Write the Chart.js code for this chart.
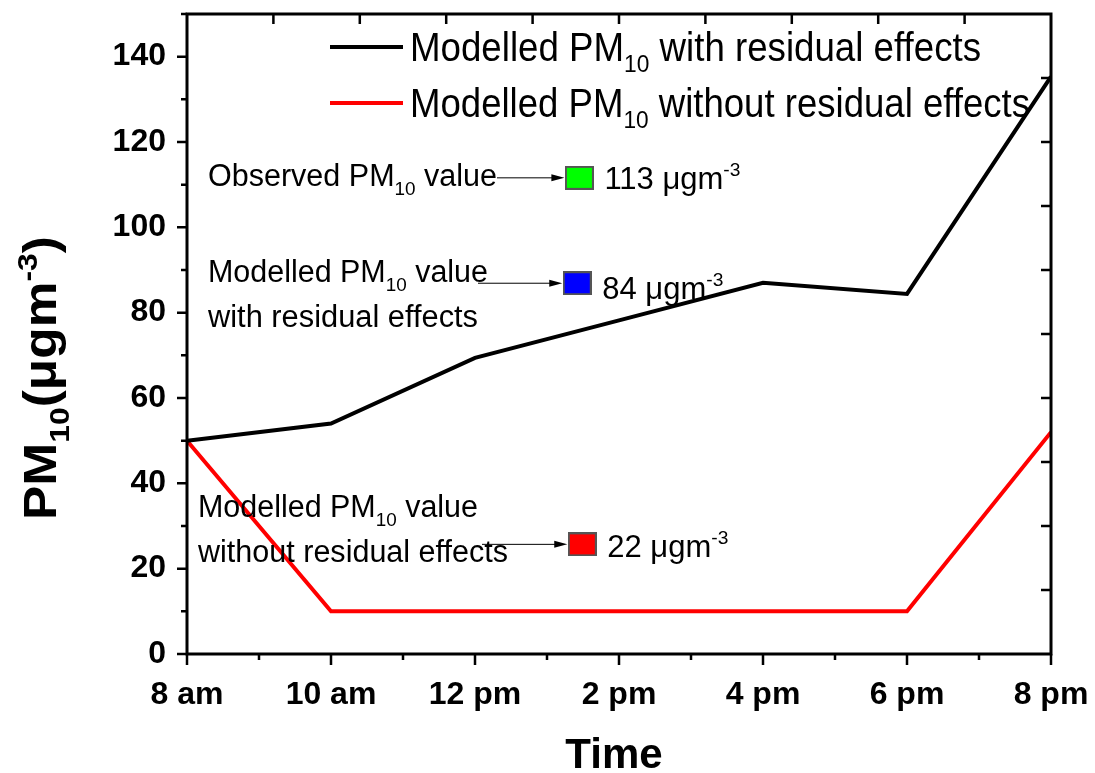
<!DOCTYPE html>
<html>
<head>
<meta charset="UTF-8">
<title>PM10 modelled vs observed</title>
<script src="https://cdn.jsdelivr.net/npm/chart.js"></script>
<style>
  html, body { margin: 0; padding: 0; background: #fff; }
  #wrap { width: 1095px; height: 773px; position: relative; }
</style>
</head>
<body>
<div id="wrap"><canvas id="pmChart"></canvas></div>
<script>
// hours after 8 am, one point every 2 hours
const hours = [0, 2, 4, 6, 8, 10, 12];
const timeLabels = ['8 am', '10 am', '12 pm', '2 pm', '4 pm', '6 pm', '8 pm'];
const withResidual = [50, 54, 69.4, 78.2, 87, 84.4, 135.3];
const withoutResidual = [50, 10, 10, 10, 10, 10, 52];

// the three coloured squares (observed / modelled values at the check time)
const markerHours = [5.45, 5.42, 5.49];
const markerValues = [111.6, 86.9, 25.7];
const markerTexts = ['113', '84', '22'];
const markerColors = ['#00ff00', '#0000ff', '#ff0000'];

const yMax = 150;
const fam = '"Liberation Sans", Arial, sans-serif';

function fontStr(size, bold) {
  return (bold ? 'bold ' : '') + size + 'px ' + fam;
}

// parts: [text, 'n' | 'sub' | 'sup']
function partSize(size, mode) { return mode === 'n' ? size : size * 0.62; }
function partDy(size, mode) {
  if (mode === 'sub') return size * 0.28;
  if (mode === 'sup') return -size * 0.42;
  return 0;
}
function richWidth(ctx, parts, size, bold) {
  let w = 0;
  parts.forEach(p => {
    ctx.font = fontStr(partSize(size, p[1]), bold);
    w += ctx.measureText(p[0]).width;
  });
  return w;
}
function drawRich(ctx, parts, x, y, size, bold, targetW) {
  const w = richWidth(ctx, parts, size, bold);
  const sx = targetW ? targetW / w : 1;
  ctx.save();
  ctx.translate(x, y);
  ctx.scale(sx, 1);
  ctx.textBaseline = 'alphabetic';
  ctx.textAlign = 'left';
  ctx.fillStyle = '#000';
  let cx = 0;
  parts.forEach(p => {
    ctx.font = fontStr(partSize(size, p[1]), bold);
    ctx.fillText(p[0], cx, partDy(size, p[1]));
    cx += ctx.measureText(p[0]).width;
  });
  ctx.restore();
}

function arrow(ctx, x1, x2, y) {
  ctx.save();
  ctx.strokeStyle = '#000';
  ctx.fillStyle = '#000';
  ctx.lineWidth = 1;
  ctx.beginPath();
  ctx.moveTo(x1, y);
  ctx.lineTo(x2 - 10, y);
  ctx.stroke();
  ctx.beginPath();
  ctx.moveTo(x2, y);
  ctx.lineTo(x2 - 13, y - 3.5);
  ctx.lineTo(x2 - 13, y + 3.5);
  ctx.closePath();
  ctx.fill();
  ctx.restore();
}

function squareImage(color) {
  const c = document.createElement('canvas');
  c.width = 29; c.height = 24;
  const g = c.getContext('2d');
  g.fillStyle = color;
  g.fillRect(0, 0, 29, 24);
  g.strokeStyle = '#555';
  g.lineWidth = 2;
  g.strokeRect(1, 1, 27, 22);
  return c;
}

// keep the plot frame where the reference has it
function noPad(s) {
  s.paddingTop = 0; s.paddingBottom = 0; s.paddingLeft = 0; s.paddingRight = 0;
}

const framePlugin = {
  id: 'frame',
  afterDatasetsDraw(chart) {
    const ctx = chart.ctx;
    const a = chart.chartArea;
    const xs = chart.scales.x, ys = chart.scales.y;
    ctx.save();
    ctx.strokeStyle = '#000';
    ctx.lineWidth = 3;
    ctx.strokeRect(a.left, a.top, a.right - a.left, a.bottom - a.top);
    ctx.lineWidth = 2.5;
    ctx.beginPath();
    // left axis ticks, outward
    for (let v = 0; v <= yMax; v += 10) {
      const py = ys.getPixelForValue(v);
      const len = v % 20 === 0 ? 10 : 6;
      ctx.moveTo(a.left, py); ctx.lineTo(a.left - len, py);
    }
    // bottom axis ticks, outward
    for (let h = 0; h <= 12; h++) {
      const px = xs.getPixelForValue(h);
      const len = h % 2 === 0 ? 11 : 6;
      ctx.moveTo(px, a.bottom); ctx.lineTo(px, a.bottom + len);
    }
    // top and right axes: ten plain divisions, inward
    for (let k = 1; k < 10; k++) {
      const px = a.left + (a.right - a.left) * k / 10;
      ctx.moveTo(px, a.top); ctx.lineTo(px, a.top + 10);
      const py = a.top + (a.bottom - a.top) * k / 10;
      ctx.moveTo(a.right, py); ctx.lineTo(a.right - 10, py);
    }
    ctx.stroke();
    ctx.restore();
  },
  afterDraw(chart) {
    const ctx = chart.ctx;
    const a = chart.chartArea;
    const xs = chart.scales.x, ys = chart.scales.y;

    // legend
    ctx.save();
    ctx.lineWidth = 4;
    ctx.strokeStyle = '#000';
    ctx.beginPath(); ctx.moveTo(330, 47); ctx.lineTo(403, 47); ctx.stroke();
    ctx.strokeStyle = '#ff0000';
    ctx.beginPath(); ctx.moveTo(330, 103); ctx.lineTo(403, 103); ctx.stroke();
    ctx.restore();
    drawRich(ctx, [['Modelled PM', 'n'], ['10', 'sub'], [' with residual effects', 'n']], 410, 61, 40, false, 571);
    drawRich(ctx, [['Modelled PM', 'n'], ['10', 'sub'], [' without residual effects', 'n']], 410, 117, 40, false, 620);

    // annotations
    drawRich(ctx, [['Observed PM', 'n'], ['10', 'sub'], [' value', 'n']], 208, 186, 31, false, 289);
    drawRich(ctx, [['Modelled PM', 'n'], ['10', 'sub'], [' value', 'n']], 208, 282, 31, false, 280);
    drawRich(ctx, [['with residual effects', 'n']], 208, 327, 31, false, 270);
    drawRich(ctx, [['Modelled PM', 'n'], ['10', 'sub'], [' value', 'n']], 198, 517, 31, false, 280);
    drawRich(ctx, [['without residual effects', 'n']], 198, 562, 31, false, 310);

    const arrowStarts = [497, 478, 482];
    const labelDrop = [11, 16, 13];
    markerValues.forEach((v, i) => {
      const px = xs.getPixelForValue(markerHours[i]);
      const py = ys.getPixelForValue(v);
      arrow(ctx, arrowStarts[i], px - 15, py);
      drawRich(ctx, [[markerTexts[i] + ' \u03bcgm', 'n'], ['-3', 'sup']], px + 25, py + labelDrop[i], 31, false);
    });

    // axis titles
    ctx.save();
    ctx.translate(56, 378);
    ctx.rotate(-Math.PI / 2);
    const tParts = [['PM', 'n'], ['10', 'sub'], ['(\u03bcgm', 'n'], ['-3', 'sup'], [')', 'n']];
    drawRich(ctx, tParts, -142, 0, 46, true, 284);
    ctx.restore();

    ctx.save();
    ctx.font = fontStr(42, true);
    ctx.fillStyle = '#000';
    ctx.textAlign = 'center';
    ctx.textBaseline = 'alphabetic';
    ctx.fillText('Time', 614, 768);
    ctx.restore();
  }
};

const toXY = (xArr, yArr) => xArr.map((h, i) => ({ x: h, y: yArr[i] }));

const markerSets = markerValues.map((v, i) => ({
  label: 'marker ' + markerTexts[i],
  data: [{ x: markerHours[i], y: v }],
  showLine: false,
  pointStyle: squareImage(markerColors[i]),
  pointRadius: 14,
  borderWidth: 0
}));

const ctx = document.getElementById('pmChart').getContext('2d');
const pmChart = new Chart(ctx, {
  type: 'line',
  data: {
    datasets: [
      {
        label: 'Modelled PM10 with residual effects',
        data: toXY(hours, withResidual),
        borderColor: '#000000',
        borderWidth: 4,
        pointRadius: 0,
        tension: 0
      },
      {
        label: 'Modelled PM10 without residual effects',
        data: toXY(hours, withoutResidual),
        borderColor: '#ff0000',
        borderWidth: 4,
        pointRadius: 0,
        tension: 0
      }
    ].concat(markerSets)
  },
  options: {
    responsive: true,
    maintainAspectRatio: false,
    animation: false,
    layout: { padding: { top: 10, right: 44, left: 0, bottom: 0 } },
    plugins: { legend: { display: false }, tooltip: { enabled: false } },
    scales: {
      x: {
        type: 'linear',
        min: 0,
        max: 12,
        grid: { display: false, drawTicks: false },
        border: { display: false },
        afterFit: s => { s.height = 119; noPad(s); },
        ticks: {
          stepSize: 1,
          autoSkip: false,
          maxRotation: 0,
          padding: 22,
          color: '#000',
          font: { family: fam, size: 32, weight: 'bold' },
          callback: v => (v % 2 === 0 ? timeLabels[v / 2] : '')
        }
      },
      y: {
        min: 0,
        max: yMax,
        grid: { display: false, drawTicks: false },
        border: { display: false },
        afterFit: s => { s.width = 187; noPad(s); },
        ticks: {
          stepSize: 10,
          autoSkip: false,
          padding: 21,
          color: '#000',
          font: { family: fam, size: 32, weight: 'bold' },
          callback: v => (v % 20 === 0 && v <= 140 ? v : '')
        }
      }
    }
  },
  plugins: [framePlugin]
});
</script>
</body>
</html>
